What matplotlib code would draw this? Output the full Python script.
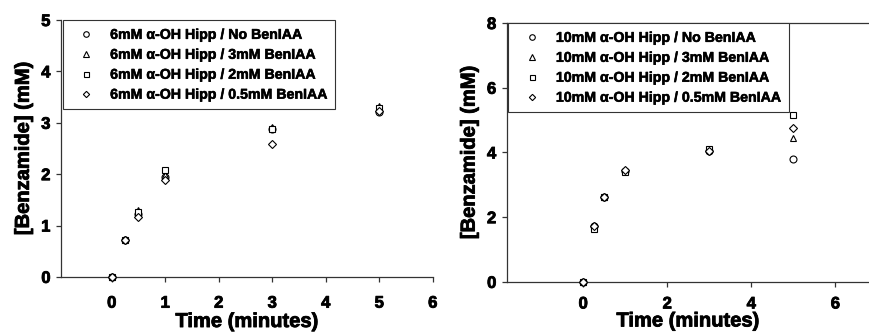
import matplotlib
matplotlib.use("Agg")
import matplotlib.pyplot as plt
import matplotlib.patheffects as pe

plt.rcParams["font.family"] = ["Liberation Sans", "DejaVu Sans"]
plt.rcParams["font.weight"] = "bold"

# sampling times (minutes)
TIME = [0, 0.25, 0.5, 1, 3, 5]

# 6mM alpha-OH Hipp panel
LABELS_6 = ["6mM \u03b1-OH Hipp / No BenIAA", "6mM \u03b1-OH Hipp / 3mM BenIAA",
            "6mM \u03b1-OH Hipp / 2mM BenIAA", "6mM \u03b1-OH Hipp / 0.5mM BenIAA"]
NO_BEN_6 = [0.0, 0.72, 1.22, 1.95, 2.88, 3.21]
BEN3_6 = [0.0, 0.73, 1.31, 1.99, 2.91, 3.32]
BEN2_6 = [0.0, 0.72, 1.26, 2.08, 2.87, 3.28]
BEN05_6 = [0.0, 0.72, 1.17, 1.88, 2.59, 3.23]

# 10mM alpha-OH Hipp panel
LABELS_10 = ["10mM \u03b1-OH Hipp / No BenIAA", "10mM \u03b1-OH Hipp / 3mM BenIAA",
             "10mM \u03b1-OH Hipp / 2mM BenIAA", "10mM \u03b1-OH Hipp / 0.5mM BenIAA"]
NO_BEN_10 = [0.0, 1.73, 2.62, 3.42, 4.06, 3.81]
BEN3_10 = [0.0, 1.74, 2.62, 3.43, 4.07, 4.44]
BEN2_10 = [0.0, 1.62, 2.62, 3.39, 4.11, 5.17]
BEN05_10 = [0.0, 1.74, 2.62, 3.45, 4.06, 4.77]

MARKERS = ["o", "^", "s", "D"]
MSIZES = [5, 5, 4.5, 4]

# slightly heavier strokes, the scanned original is very bold
HEAVY = [pe.withStroke(linewidth=0.6, foreground="black")]


def draw_panel(ax, series, labels, xlim, ylim, yticks, xticks, top_spine=False,
               xlabelpad=1, xpad=10):
    for ys, lab, m, ms in zip(series, labels, MARKERS, MSIZES):
        ax.plot(TIME, ys, ls="none", marker=m, ms=ms, mfc="white", mec="black",
                mew=0.8, label=lab, clip_on=False, zorder=3)
    ax.set_xlim(*xlim)
    ax.set_ylim(*ylim)
    ax.set_xticks(list(xticks), labels=[str(v) for v in xticks],
                  fontsize=12, fontweight="bold", path_effects=HEAVY)
    ax.set_yticks(list(yticks), labels=[str(v) for v in yticks],
                  fontsize=12, fontweight="bold", path_effects=HEAVY)
    ax.spines["right"].set_visible(False)
    ax.spines["top"].set_visible(top_spine)
    for s in ["left", "bottom", "top"]:
        ax.spines[s].set_color("#333333")
        ax.spines[s].set_linewidth(0.9)
    ax.tick_params(direction="out", length=3.5, width=0.9, color="#333333")
    ax.tick_params(axis="x", pad=xpad)
    ax.tick_params(axis="y", pad=4)
    ax.set_xlabel("Time (minutes)", fontsize=14.5, fontweight="bold",
                  labelpad=xlabelpad, path_effects=HEAVY)
    ax.set_ylabel("[Benzamide] (mM)", fontsize=14.5, fontweight="bold", labelpad=6,
                  path_effects=HEAVY)
    leg = ax.legend(loc="upper left", bbox_to_anchor=(0.005, 1.0), borderaxespad=0,
                    fancybox=False, framealpha=1, edgecolor="#333333",
                    prop={"size": 10.2, "weight": "bold"}, handlelength=2.2,
                    handletextpad=0.6, labelspacing=0.42, borderpad=0.55,
                    markerscale=0.8)
    leg.get_frame().set_linewidth(0.8)
    for t in leg.get_texts():
        t.set_path_effects([pe.withStroke(linewidth=0.4, foreground="black")])


fig = plt.figure(figsize=(8.69, 3.34), dpi=100)
ax1 = fig.add_axes([0.070, 0.171, 0.428, 0.769])
ax2 = fig.add_axes([0.583, 0.156, 0.417, 0.775])

draw_panel(ax1, [NO_BEN_6, BEN3_6, BEN2_6, BEN05_6], LABELS_6,
           (-0.95, 6), (0, 5), range(0, 6), range(0, 7))
draw_panel(ax2, [NO_BEN_10, BEN3_10, BEN2_10, BEN05_10], LABELS_10,
           (-1.82, 6.8), (0, 8), range(0, 9, 2), range(0, 7, 2), top_spine=True,
           xlabelpad=0, xpad=7)

fig.savefig("out.png", dpi=100)
